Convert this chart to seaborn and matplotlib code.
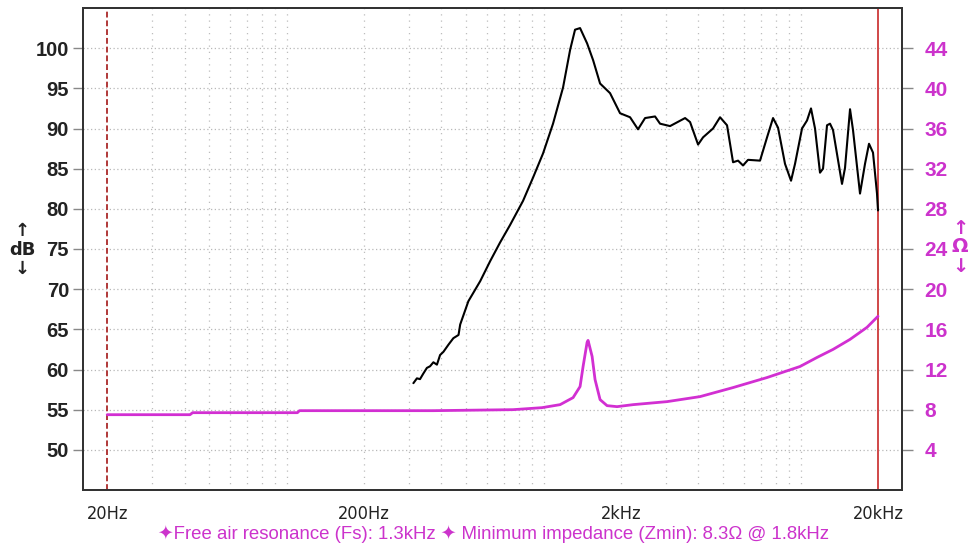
import numpy as np
import pandas as pd
import matplotlib
matplotlib.use("Agg")
import matplotlib.pyplot as plt
import matplotlib.ticker as mticker
import seaborn as sns

# ---------------- data ----------------
spl_freq = [311, 321, 330, 340, 351, 361, 372, 384, 395, 407, 426, 445, 466, 473, 509,
            566, 619, 676, 740, 831, 909, 994,
            1087, 1189, 1267, 1324, 1385, 1475, 1557, 1657, 1812, 1982, 2168, 2328, 2480,
            2712, 2836, 3102, 3550, 3712, 3988, 4170, 4560, 4856, 5170, 5456, 5706, 5966,
            6240, 6948, 7400, 7808, 8166, 8692, 9174, 9508, 10124, 10588, 10972, 11374,
            11894, 12220, 12666, 13010, 13366, 14486, 14882, 15566, 15988, 17022, 17802,
            18452, 19124, 19822, 20000]
spl_db = [58.3, 58.9, 58.8, 59.5, 60.2, 60.4, 60.9, 60.6, 61.8, 62.2, 63.1, 63.9, 64.3, 65.6, 68.5,
          71.0, 73.5, 75.8, 78.0, 81.0, 83.9, 86.9,
          90.6, 95.1, 99.8, 102.3, 102.5, 100.6, 98.5, 95.6, 94.4, 91.9, 91.4, 89.9, 91.3,
          91.5, 90.6, 90.3, 91.3, 90.8, 88.0, 88.9, 90.0, 91.4, 90.4, 85.8, 86.0, 85.4,
          86.1, 86.0, 88.9, 91.3, 90.1, 85.6, 83.5, 85.6, 90.0, 91.0, 92.5, 90.0,
          84.5, 85.0, 90.4, 90.6, 89.8, 83.1, 85.1, 92.4, 89.8, 81.9, 85.6,
          88.1, 87.0, 81.9, 79.8]

imp_freq = [20, 42, 43, 110, 112, 371, 760, 985, 1158, 1301, 1385, 1423, 1475, 1488, 1543,
            1584, 1657, 1764, 1929, 2228, 3020, 4060, 5456, 7400, 9944, 11578, 13366,
            15566, 18124, 20000]
imp_ohm = [7.5, 7.5, 7.7, 7.7, 7.9, 7.9, 8.0, 8.2, 8.5, 9.2, 10.3, 12.3, 14.7, 14.9, 13.3,
           11.0, 9.0, 8.4, 8.3, 8.5, 8.8, 9.3, 10.2, 11.2, 12.3, 13.2, 14.0,
           15.0, 16.2, 17.3]

db_ticks = [50, 55, 60, 65, 70, 75, 80, 85, 90, 95, 100]
ohm_ticks = [4, 8, 12, 16, 20, 24, 28, 32, 36, 40, 44]
x_major = [20, 100, 200, 1000, 2000, 10000, 20000]
x_major_labels = ["20Hz", "", "200Hz", "", "2kHz", "", "20kHz"]
x_minor = [30, 40, 50, 60, 70, 80, 90, 300, 400, 500, 600, 700, 800, 900,
           3000, 4000, 5000, 6000, 7000, 8000, 9000]
caption = "\u2726Free air resonance (Fs): 1.3kHz \u2726 Minimum impedance (Zmin): 8.3\u03a9 @ 1.8kHz"

spl = pd.DataFrame({"freq": spl_freq, "db": spl_db})
imp = pd.DataFrame({"freq": imp_freq, "ohm": imp_ohm})

# ---------------- style ----------------
sns.set_theme(style="white")
plt.rcParams["font.family"] = ["Liberation Sans", "DejaVu Sans"]

MAG = "#d22fd2"
MAGT = "#cc33cc"

fig = plt.figure(figsize=(9.71, 5.48), dpi=100)
ax = fig.add_axes([83 / 971, 1 - 490 / 548, (902 - 83) / 971, (490 - 8) / 548])
ax.set_xscale("log")
ax.set_xlim(16.1, 24800)
ax.set_ylim(45, 105)

# grid
for f in x_major[1:-1] + x_minor:
    ax.axvline(f, color="#bdbdbd", lw=0.9, ls=(0, (1, 4)), zorder=0)
for d in db_ticks:
    ax.axhline(d, color="#b8b8b8", lw=0.9, ls=(0, (1, 2)), zorder=0)

# limit lines
ax.axvline(20, color="#b03838", lw=1.4, ls=(0, (3, 1.5)), zorder=1)
ax.axvline(20000, color="#d04848", lw=1.4, zorder=1)

sns.lineplot(data=spl, x="freq", y="db", ax=ax, color="black", lw=1.5,
             estimator=None, sort=False, zorder=3)

ax2 = ax.twinx()
ax2.set_ylim(0, 48)
sns.lineplot(data=imp, x="freq", y="ohm", ax=ax2, color=MAG, lw=2.0,
             estimator=None, sort=False, zorder=3)

# axes / ticks
for a in (ax, ax2):
    for s in a.spines.values():
        s.set_color("#333333")
        s.set_linewidth(1.4)
    a.set_xlabel("")
    a.set_ylabel("")

ax.xaxis.set_major_locator(mticker.FixedLocator(x_major))
ax.xaxis.set_major_formatter(mticker.FixedFormatter(x_major_labels))
ax.xaxis.set_minor_locator(mticker.FixedLocator(x_minor))
ax.xaxis.set_minor_formatter(mticker.NullFormatter())
ax.tick_params(axis="x", which="major", direction="out", length=10, width=1,
               color="#888888", pad=1)
ax.tick_params(axis="x", which="minor", direction="out", length=6, width=1,
               color="#888888")
for lbl in ax.get_xticklabels():
    lbl.set_family("DejaVu Sans")
    lbl.set_fontstretch("condensed")
    lbl.set_fontsize(13)
    lbl.set_color("#222222")

ax.set_yticks(db_ticks)
ax.set_yticklabels([str(v) for v in db_ticks])
ax.tick_params(axis="y", which="major", direction="out", length=7, width=1,
               color="#888888", pad=3, labelsize=14.5, labelcolor="#222222")
for lbl in ax.get_yticklabels():
    lbl.set_fontweight("bold")

ax2.set_yticks(ohm_ticks)
ax2.set_yticklabels([str(v) for v in ohm_ticks])
ax2.tick_params(axis="y", which="major", direction="out", length=8, width=1,
                color="#888888", pad=8, labelsize=15, labelcolor=MAGT)
for lbl in ax2.get_yticklabels():
    lbl.set_fontweight("bold")

# axis unit labels
fig.text(22 / 971, 1 - 250 / 548, "\u2191\ndB\n\u2193", ha="center", va="center",
         fontsize=13, fontweight="bold", color="#222222", linespacing=1.05,
         family=["DejaVu Sans"])
fig.text(960 / 971, 1 - 247 / 548, "\u2191\n\u03a9\n\u2193", ha="center", va="center",
         fontsize=14, fontweight="bold", color=MAGT, linespacing=1.0,
         family=["DejaVu Sans"])

fig.text(493 / 971, 1 - 534 / 548, caption, ha="center", va="center",
         fontsize=13.4, color=MAGT, family=["Liberation Sans", "DejaVu Sans"])

fig.savefig("out.png", dpi=100, facecolor="white")
